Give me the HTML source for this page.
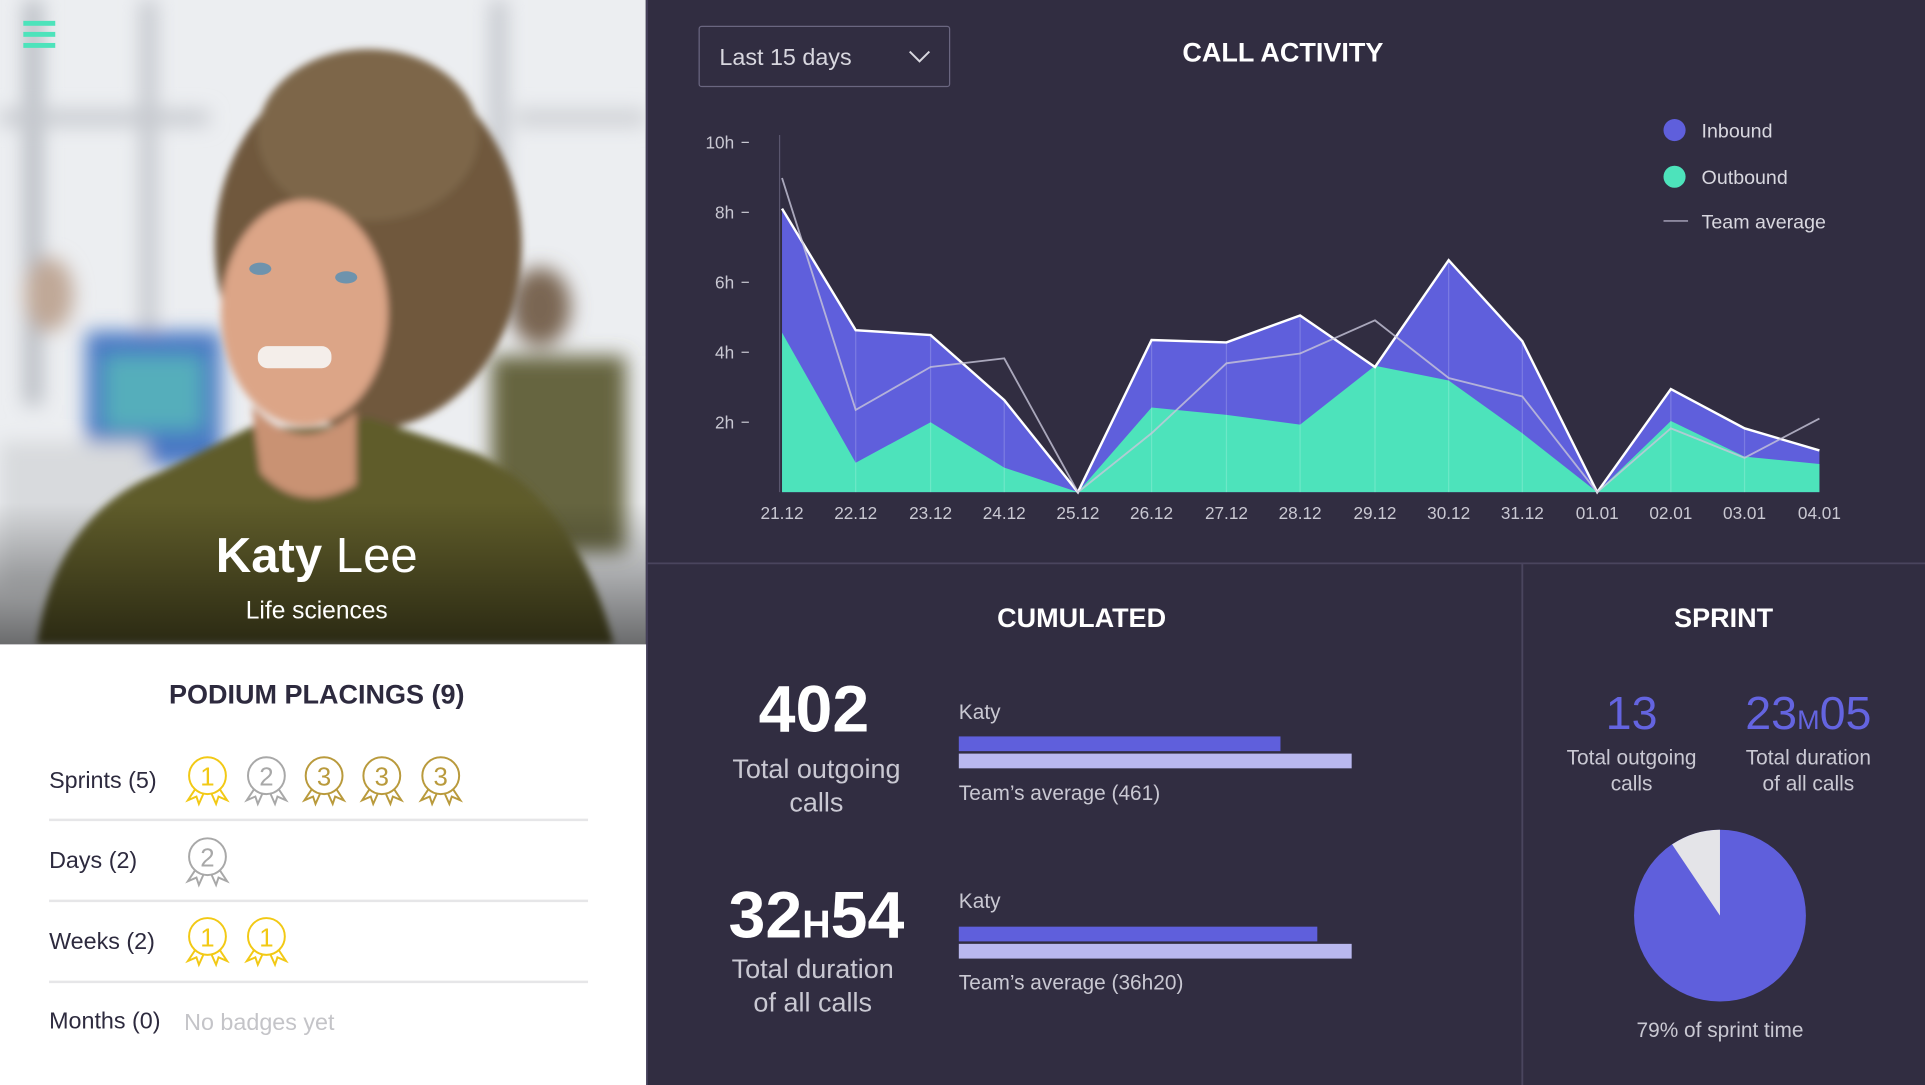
<!DOCTYPE html>
<html><head><meta charset="utf-8"><style>
html,body{margin:0;padding:0;width:1925px;height:1085px;overflow:hidden;background:#312d41}
svg{display:block}
text{font-family:"Liberation Sans",sans-serif}
</style></head><body>
<svg width="1925" height="1085" viewBox="0 0 1568 884" preserveAspectRatio="none" xmlns="http://www.w3.org/2000/svg">
<defs>
<filter id="b8" x="-50%" y="-50%" width="200%" height="200%"><feGaussianBlur stdDeviation="8"/></filter>
<filter id="b3" x="-50%" y="-50%" width="200%" height="200%"><feGaussianBlur stdDeviation="3"/></filter>
<linearGradient id="shade" x1="0" y1="0" x2="0" y2="1"><stop offset="0.78" stop-color="#000" stop-opacity="0"/><stop offset="1" stop-color="#000" stop-opacity="0.55"/></linearGradient>
<clipPath id="ph"><rect x="0" y="0" width="526" height="525"/></clipPath>
</defs>
<rect x="0" y="0" width="1568" height="884" fill="#312d41"/>
<g clip-path="url(#ph)">
<rect x="0" y="0" width="526" height="525" fill="#eceef1"/>
<g filter="url(#b8)">
<rect x="20" y="0" width="14" height="330" fill="#b5b9c0"/>
<rect x="115" y="0" width="12" height="330" fill="#c0c3c9"/>
<rect x="0" y="90" width="170" height="12" fill="#c5c8cd"/>
<rect x="400" y="0" width="12" height="260" fill="#c0c3c9"/>
<rect x="420" y="90" width="106" height="12" fill="#cbcdd1"/>
<ellipse cx="40" cy="240" rx="20" ry="30" fill="#c0a897"/>
<rect x="70" y="270" width="110" height="110" fill="#4a78c4"/>
<rect x="85" y="290" width="80" height="60" fill="#55aebb"/>
<rect x="0" y="360" width="120" height="120" fill="#d8dadd"/>
<ellipse cx="440" cy="250" rx="25" ry="32" fill="#7a6652"/>
<rect x="400" y="290" width="110" height="160" fill="#66653f"/>
</g>
<g filter="url(#b3)">
<ellipse cx="300" cy="200" rx="125" ry="150" fill="#6f583c"/>
<ellipse cx="300" cy="110" rx="90" ry="70" fill="#7d6649"/>
<ellipse cx="248" cy="255" rx="68" ry="92" fill="#dca587"/>
<path d="M30 525 Q45 420 130 385 L210 345 Q250 355 300 340 L390 370 Q470 410 500 525 Z" fill="#5e5c2c"/>
<path d="M205 330 Q245 375 290 335 L290 395 Q245 420 212 385 Z" fill="#c99273"/>
</g>
<rect x="210" y="282" width="60" height="18" rx="8" fill="#f4eeea"/>
<ellipse cx="212" cy="219" rx="9" ry="5" fill="#6e93ad"/>
<ellipse cx="282" cy="226" rx="9" ry="5" fill="#6e93ad"/>
<rect x="0" y="0" width="526" height="525" fill="url(#shade)"/>
</g>
<rect x="19" y="17" width="26" height="4" fill="#4de3bb"/>
<rect x="19" y="26" width="26" height="4" fill="#4de3bb"/>
<rect x="19" y="35" width="26" height="4" fill="#4de3bb"/>
<text x="258" y="466" text-anchor="middle" fill="#fff" font-size="40"><tspan font-weight="bold">Katy</tspan> Lee</text>
<text x="258" y="504" text-anchor="middle" fill="#fff" font-size="20">Life sciences</text>
<rect x="0" y="525" width="527" height="359" fill="#fff"/>
<text x="258" y="573" text-anchor="middle" fill="#2d2a3e" font-size="22" font-weight="bold">PODIUM PLACINGS (9)</text>
<g fill="#2d2a3e" font-size="19">
<text x="40" y="642">Sprints (5)</text>
<text x="40" y="707">Days (2)</text>
<text x="40" y="773">Weeks (2)</text>
<text x="40" y="838">Months (0)</text>
</g>
<text x="150" y="839" fill="#c4c4c8" font-size="19">No badges yet</text>
<g stroke="#e6e6e8" stroke-width="2"><line x1="40" y1="668" x2="479" y2="668"/><line x1="40" y1="734" x2="479" y2="734"/><line x1="40" y1="800" x2="479" y2="800"/></g>
<g fill="none" stroke-width="1.6" font-size="20">
<g stroke="#f2c915"><circle cx="169" cy="632" r="15"/><path d="M159 643 L153 652 L160 649 L162 655 L166 646 M179 643 L185 652 L178 649 L176 655 L172 646"/></g>
<g stroke="#a8a8a8"><circle cx="217" cy="632" r="15"/><path d="M207 643 L201 652 L208 649 L210 655 L214 646 M227 643 L233 652 L226 649 L224 655 L220 646"/></g>
<g stroke="#b99a3c"><circle cx="264" cy="632" r="15"/><path d="M254 643 L248 652 L255 649 L257 655 L261 646 M274 643 L280 652 L273 649 L271 655 L267 646"/></g>
<g stroke="#b99a3c"><circle cx="311" cy="632" r="15"/><path d="M301 643 L295 652 L302 649 L304 655 L308 646 M321 643 L327 652 L320 649 L318 655 L314 646"/></g>
<g stroke="#b99a3c"><circle cx="359" cy="632" r="15"/><path d="M349 643 L343 652 L350 649 L352 655 L356 646 M369 643 L375 652 L368 649 L366 655 L362 646"/></g>
<g stroke="#a8a8a8"><circle cx="169" cy="698" r="15"/><path d="M159 709 L153 718 L160 715 L162 721 L166 712 M179 709 L185 718 L178 715 L176 721 L172 712"/></g>
<g stroke="#f2c915"><circle cx="169" cy="763" r="15"/><path d="M159 774 L153 783 L160 780 L162 786 L166 777 M179 774 L185 783 L178 780 L176 786 L172 777"/></g>
<g stroke="#f2c915"><circle cx="217" cy="763" r="15"/><path d="M207 774 L201 783 L208 780 L210 786 L214 777 M227 774 L233 783 L226 780 L224 786 L220 777"/></g>
</g>
<g text-anchor="middle" font-size="21">
<text x="169" y="640" fill="#f2c915">1</text><text x="217" y="640" fill="#a8a8a8">2</text><text x="264" y="640" fill="#b99a3c">3</text><text x="311" y="640" fill="#b99a3c">3</text><text x="359" y="640" fill="#b99a3c">3</text>
<text x="169" y="706" fill="#a8a8a8">2</text><text x="169" y="771" fill="#f2c915">1</text><text x="217" y="771" fill="#f2c915">1</text>
</g>
<line x1="527" y1="0" x2="527" y2="884" stroke="#45405a" stroke-width="1.5"/>
<line x1="527" y1="459" x2="1568" y2="459" stroke="#4a455e" stroke-width="1.5"/>
<line x1="1240" y1="459" x2="1240" y2="884" stroke="#4a455e" stroke-width="1.5"/>
<rect x="569.5" y="21.5" width="204" height="49" fill="none" stroke="#6a6680" rx="2"/>
<text x="586" y="53" fill="#d8d7df" font-size="19">Last 15 days</text>
<path d="M741 42 L749 50 L757 42" fill="none" stroke="#d8d7df" stroke-width="1.6"/>
<text x="1045" y="50" text-anchor="middle" fill="#fff" font-size="22" font-weight="bold">CALL ACTIVITY</text>
<g fill="#c9c8d2" font-size="14" text-anchor="end">
<text x="598" y="121">10h</text><text x="598" y="178">8h</text><text x="598" y="235">6h</text><text x="598" y="292">4h</text><text x="598" y="349">2h</text>
</g>
<g stroke="#c9c8d2" stroke-width="1"><line x1="604" y1="116" x2="610" y2="116"/><line x1="604" y1="173" x2="610" y2="173"/><line x1="604" y1="230" x2="610" y2="230"/><line x1="604" y1="287" x2="610" y2="287"/><line x1="604" y1="344" x2="610" y2="344"/></g>
<line x1="635" y1="110" x2="635" y2="401" stroke="#5a566e" stroke-width="1"/>
<polygon fill="#5f5fdc" points="637,401 637,170 697,269 758,273 818,326 878,401 938,277 999,279 1059,257 1120,299 1180,212 1240,278 1301,401 1361,317 1421,349 1482,367 1482,401"/>
<polygon fill="#4de3bb" points="637,401 637,271 697,377 758,344 818,381 878,401 938,332 999,338 1059,346 1120,298 1180,310 1240,353 1301,401 1361,343 1421,372 1482,378 1482,401"/>
<g stroke="#ffffff" stroke-opacity="0.18" stroke-width="1"><line x1="697" y1="269" x2="697" y2="401"/><line x1="758" y1="273" x2="758" y2="401"/><line x1="818" y1="326" x2="818" y2="401"/><line x1="938" y1="277" x2="938" y2="401"/><line x1="999" y1="279" x2="999" y2="401"/><line x1="1059" y1="257" x2="1059" y2="401"/><line x1="1120" y1="299" x2="1120" y2="401"/><line x1="1180" y1="212" x2="1180" y2="401"/><line x1="1240" y1="278" x2="1240" y2="401"/><line x1="1361" y1="317" x2="1361" y2="401"/><line x1="1421" y1="349" x2="1421" y2="401"/></g>
<polyline fill="none" stroke="#fff" stroke-width="2" points="637,170 697,269 758,273 818,326 878,401 938,277 999,279 1059,257 1120,299 1180,212 1240,278 1301,401 1361,317 1421,349 1482,367"/>
<polyline fill="none" stroke="#c8c6da" stroke-opacity="0.8" stroke-width="1.5" points="637,145 697,334 758,299 818,292 878,401 938,353 999,296 1059,288 1120,261 1180,308 1240,323 1301,401 1361,349 1421,373 1482,341"/>
<g fill="#c9c8d2" font-size="14" text-anchor="middle">
<text x="637" y="423">21.12</text><text x="697" y="423">22.12</text><text x="758" y="423">23.12</text><text x="818" y="423">24.12</text><text x="878" y="423">25.12</text><text x="938" y="423">26.12</text><text x="999" y="423">27.12</text><text x="1059" y="423">28.12</text><text x="1120" y="423">29.12</text><text x="1180" y="423">30.12</text><text x="1240" y="423">31.12</text><text x="1301" y="423">01.01</text><text x="1361" y="423">02.01</text><text x="1421" y="423">03.01</text><text x="1482" y="423">04.01</text>
</g>
<circle cx="1364" cy="106" r="9" fill="#5f5fdc"/><circle cx="1364" cy="144" r="9" fill="#4de3bb"/>
<line x1="1355" y1="180" x2="1375" y2="180" stroke="#8c889e" stroke-width="1.5"/>
<g fill="#d8d7df" font-size="16"><text x="1386" y="112">Inbound</text><text x="1386" y="150">Outbound</text><text x="1386" y="186">Team average</text></g>
<text x="881" y="511" text-anchor="middle" fill="#fff" font-size="22" font-weight="bold">CUMULATED</text>
<text x="663" y="596" text-anchor="middle" fill="#fff" font-size="54" font-weight="bold">402</text>
<g fill="#c9c8d2" font-size="22" text-anchor="middle"><text x="665" y="634">Total outgoing</text><text x="665" y="661">calls</text><text x="662" y="797">Total duration</text><text x="662" y="824">of all calls</text></g>
<text x="665" y="764" text-anchor="middle" fill="#fff" font-size="54" font-weight="bold">32<tspan font-size="32">H</tspan>54</text>
<g fill="#c9c8d2" font-size="17"><text x="781" y="586">Katy</text><text x="781" y="652">Team’s average (461)</text><text x="781" y="740">Katy</text><text x="781" y="806">Team’s average (36h20)</text></g>
<rect x="781" y="600" width="262" height="12" fill="#5f5fdc"/><rect x="781" y="614" width="320" height="12" fill="#b9b8ef"/>
<rect x="781" y="755" width="292" height="12" fill="#5f5fdc"/><rect x="781" y="769" width="320" height="12" fill="#b9b8ef"/>
<text x="1404" y="511" text-anchor="middle" fill="#fff" font-size="22" font-weight="bold">SPRINT</text>
<text x="1329" y="594" text-anchor="middle" fill="#6464e0" font-size="38">13</text>
<text x="1473" y="594" text-anchor="middle" fill="#6464e0" font-size="38">23<tspan font-size="22">M</tspan>05</text>
<g fill="#c9c8d2" font-size="17" text-anchor="middle"><text x="1329" y="623">Total outgoing</text><text x="1329" y="644">calls</text><text x="1473" y="623">Total duration</text><text x="1473" y="644">of all calls</text></g>
<circle cx="1401" cy="746" r="70" fill="#5f5fdc"/>
<path d="M1401 746 L1401 676 A70 70 0 0 0 1362 688 Z" fill="#e4e4e8"/>
<text x="1401" y="845" text-anchor="middle" fill="#c9c8d2" font-size="17">79% of sprint time</text>
</svg>
</body></html>
